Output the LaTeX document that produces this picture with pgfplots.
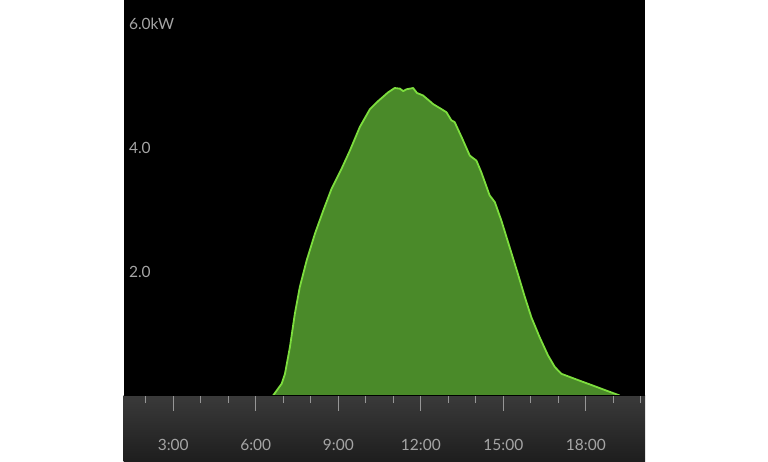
\documentclass[border=0pt]{standalone}
\usepackage{fontspec}
\setmainfont{Lato}
\usepackage{pgfplots}
\pgfplotsset{compat=1.18}

\definecolor{pvfill}{RGB}{74,138,41}
\definecolor{pvline}{RGB}{125,222,62}
\definecolor{lblgray}{RGB}{165,165,165}
\definecolor{baseline}{RGB}{160,168,176}
\definecolor{tickgray}{RGB}{150,150,150}
\definecolor{bartop}{RGB}{58,58,58}
\definecolor{barbot}{RGB}{30,30,30}

\begin{document}
\begin{tikzpicture}[x=1pt,y=1pt]
\fill[white] (0,0) rectangle (768,461);
\path[use as bounding box] (0,0) rectangle (768,461);

% bottom time bar
\shade[top color=bartop,bottom color=barbot] (123.5,0) rectangle (645,65.5);

\begin{axis}[
  at={(123.5pt,65.5pt)}, anchor=south west,
  scale only axis, width=521.5pt, height=395.5pt,
  xmin=1.19, xmax=20.15, ymin=0, ymax=6.38,
  axis background/.style={fill=black},
  axis line style={draw=none},
  font=\fontsize{15.5}{18}\selectfont,
  xtick={3,6,9,12,15,18},
  xticklabels={3:00,6:00,9:00,12:00,15:00,18:00},
  minor xtick={2,4,5,7,8,10,11,13,14,16,17,19,20},
  xtick pos=bottom, tick align=outside,
  major tick length=15pt, minor tick length=7.5pt,
  every tick/.style={tickgray, line width=1.2pt},
  xticklabel style={lblgray, anchor=center, yshift=-34pt},
  ytick={2,4,6},
  yticklabels={2.0,4.0,6.0kW},
  ytick style={draw=none},
  yticklabel style={lblgray, anchor=west, xshift=17pt},
  clip=true,
]
  % measured output, kW against hour of day
  \addplot[draw=none, fill=pvfill] coordinates {
    (6.63,0) (6.94,0.19) (7.06,0.35) (7.24,0.78) (7.42,1.32) (7.60,1.75)
    (7.85,2.18) (8.15,2.61) (8.45,2.98) (8.75,3.33) (9.12,3.66) (9.42,3.95)
    (9.78,4.33) (10.15,4.62) (10.45,4.75) (10.81,4.89) (11.05,4.96) (11.24,4.95)
    (11.36,4.91) (11.48,4.94) (11.72,4.96) (11.86,4.88) (12.08,4.84) (12.32,4.75)
    (12.45,4.70) (12.75,4.62) (12.93,4.57) (13.11,4.44) (13.23,4.41) (13.48,4.17)
    (13.78,3.87) (14.02,3.79) (14.20,3.60) (14.50,3.23) (14.69,3.12) (14.93,2.82)
    (15.23,2.39) (15.53,1.96) (15.78,1.59) (16.02,1.26) (16.32,0.94) (16.62,0.65)
    (16.87,0.46) (17.11,0.35) (17.77,0.24) (18.26,0.16) (18.74,0.08) (19.23,0)
  } \closedcycle;
  \addplot[pvline, line width=1.8pt, line join=round] coordinates {
    (6.63,0) (6.94,0.19) (7.06,0.35) (7.24,0.78) (7.42,1.32) (7.60,1.75)
    (7.85,2.18) (8.15,2.61) (8.45,2.98) (8.75,3.33) (9.12,3.66) (9.42,3.95)
    (9.78,4.33) (10.15,4.62) (10.45,4.75) (10.81,4.89) (11.05,4.96) (11.24,4.95)
    (11.36,4.91) (11.48,4.94) (11.72,4.96) (11.86,4.88) (12.08,4.84) (12.32,4.75)
    (12.45,4.70) (12.75,4.62) (12.93,4.57) (13.11,4.44) (13.23,4.41) (13.48,4.17)
    (13.78,3.87) (14.02,3.79) (14.20,3.60) (14.50,3.23) (14.69,3.12) (14.93,2.82)
    (15.23,2.39) (15.53,1.96) (15.78,1.59) (16.02,1.26) (16.32,0.94) (16.62,0.65)
    (16.87,0.46) (17.11,0.35) (17.77,0.24) (18.26,0.16) (18.74,0.08) (19.23,0)
  };
  \draw[baseline, line width=2pt] (rel axis cs:0,0) -- (rel axis cs:1,0);
\end{axis}
\end{tikzpicture}
\end{document}
